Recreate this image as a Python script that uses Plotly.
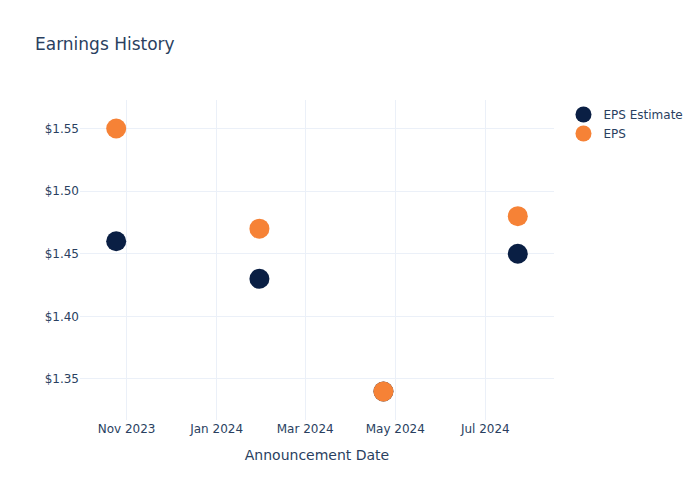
import plotly.graph_objects as go

dates = ["2023-10-25", "2024-01-30", "2024-04-23", "2024-07-23"]
eps_estimate = [1.46, 1.43, 1.34, 1.45]
eps_actual = [1.55, 1.47, 1.34, 1.48]

fig = go.Figure()
fig.add_trace(go.Scatter(x=dates, y=eps_estimate, mode="markers", name="EPS Estimate",
                         marker=dict(color="#0a1f44", size=20)))
fig.add_trace(go.Scatter(x=dates, y=eps_actual, mode="markers", name="EPS",
                         marker=dict(color="#f68236", size=20)))

fig.update_layout(
    template="plotly_white",
    width=700, height=500,
    font=dict(family="DejaVu Sans"),
    title=dict(text="Earnings History"),
    xaxis=dict(title=dict(text="Announcement Date")),
    yaxis=dict(tickprefix="$", tickformat=".2f"),
)
fig.write_html("out.html")
